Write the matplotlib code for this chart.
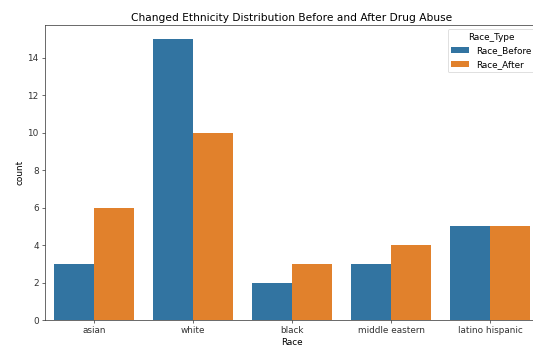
import matplotlib
matplotlib.use("Agg")
import matplotlib.pyplot as plt
import numpy as np

categories = ["asian", "white", "black", "middle eastern", "latino hispanic"]
race_before = [3, 15, 2, 3, 5]
race_after = [6, 10, 3, 4, 5]
series_names = ["Race_Before", "Race_After"]
colors = ["#3274a1", "#e1812c"]

dpi = 53.3
s = 1.2
plt.rcParams.update({
    "font.size": 10 * s,
    "axes.titlesize": 12 * s,
    "axes.labelsize": 10 * s,
    "xtick.labelsize": 10 * s,
    "ytick.labelsize": 10 * s,
    "legend.fontsize": 10 * s,
    "legend.title_fontsize": 10 * s,
    "axes.linewidth": 0.8 * s,
    "xtick.major.width": 0.8 * s,
    "ytick.major.width": 0.8 * s,
    "xtick.major.size": 3.5 * s,
    "ytick.major.size": 3.5 * s,
    "axes.edgecolor": "#333333",
    "xtick.color": "#333333",
    "ytick.color": "#333333",
})
fig = plt.figure(figsize=(533 / dpi, 348 / dpi), dpi=dpi)
ax = fig.add_axes([44.5 / 533, 28 / 348, 495 / 533, 295 / 348])

x = np.arange(len(categories))
w = 0.4
ax.bar(x - w / 2, race_before, width=w, color=colors[0], label=series_names[0])
ax.bar(x + w / 2, race_after, width=w, color=colors[1], label=series_names[1])

ax.set_xlim(-0.5, len(categories) - 0.5)
ax.set_ylim(0, 15.75)
ax.set_xticks(x)
ax.set_xticklabels(categories)
ax.set_yticks(np.arange(0, 15, 2))
ax.set_xlabel("Race")
ax.set_ylabel("count")
ax.set_title("Changed Ethnicity Distribution Before and After Drug Abuse")
ax.legend(title="Race_Type", loc="upper right")

fig.savefig("out.png", dpi=dpi)
